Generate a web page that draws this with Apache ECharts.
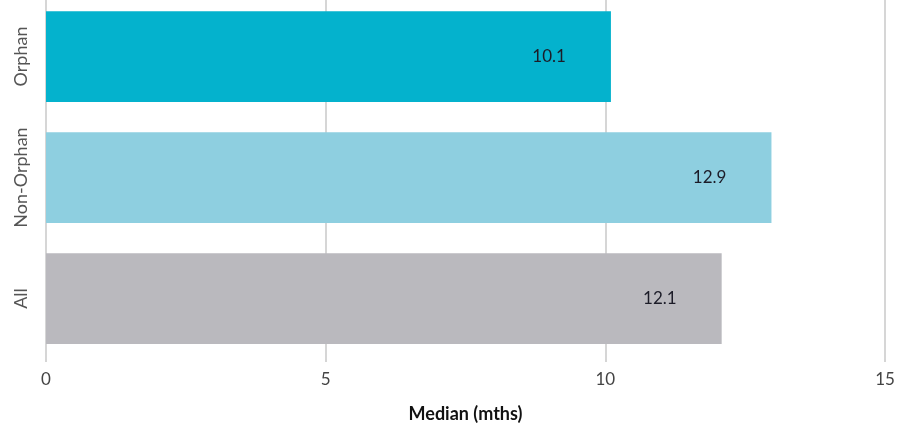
<!DOCTYPE html>
<html>
<head>
<meta charset="utf-8">
<script src="https://cdn.jsdelivr.net/npm/echarts@6/dist/echarts.min.js"></script>
<style>
html,body{margin:0;padding:0;background:#fff;}
#chart{width:905px;height:429px;}
</style>
</head>
<body>
<div id="chart"></div>
<script>
const categories = ['Orphan', 'Non-Orphan', 'All'];
const values = [10.1, 12.97, 12.08];
const valueLabels = ['10.1', '12.9', '12.1'];
const barColors = ['#04b2cd', '#8ecfe0', '#bab9be'];
const xTicks = [0, 5, 10, 15];
const axisTitle = 'Median (mths)';

const chart = echarts.init(document.getElementById('chart'), null, {renderer: 'canvas'});
chart.setOption({
  animation: false,
  backgroundColor: '#ffffff',
  textStyle: {fontFamily: 'Lato'},
  grid: {left: 46, right: 20, top: -4, bottom: 70, containLabel: false, outerBoundsMode: 'none'},
  xAxis: {
    type: 'value',
    min: xTicks[0],
    max: xTicks[xTicks.length - 1],
    interval: xTicks[1] - xTicks[0],
    name: axisTitle,
    nameLocation: 'middle',
    nameGap: 46,
    nameTextStyle: {fontFamily: 'Lato', fontSize: 18, fontWeight: 'bold', color: '#111111'},
    axisLine: {show: false},
    axisTick: {show: true, length: 3, lineStyle: {color: '#c8c8c8', width: 1.5}},
    axisLabel: {fontFamily: 'Lato', fontSize: 17, color: '#444444', margin: 12},
    splitLine: {show: true, lineStyle: {color: '#c8c8c8', width: 1.5}}
  },
  yAxis: {
    type: 'category',
    data: categories,
    inverse: true,
    axisLine: {show: false},
    axisTick: {show: false},
    axisLabel: {fontFamily: 'Lato', fontSize: 18, color: '#555555', rotate: 90, margin: 16, interval: 0, hideOverlap: false},
    splitLine: {show: false}
  },
  series: [{
    type: 'bar',
    barCategoryGap: '25%',
    data: values.map((v, i) => ({value: v, itemStyle: {color: barColors[i]}})),
    label: {
      show: true,
      position: 'insideRight',
      distance: 45,
      fontFamily: 'Lato',
      fontSize: 17,
      color: '#1c1c28',
      formatter: (p) => valueLabels[p.dataIndex]
    }
  }]
});
</script>
</body>
</html>
